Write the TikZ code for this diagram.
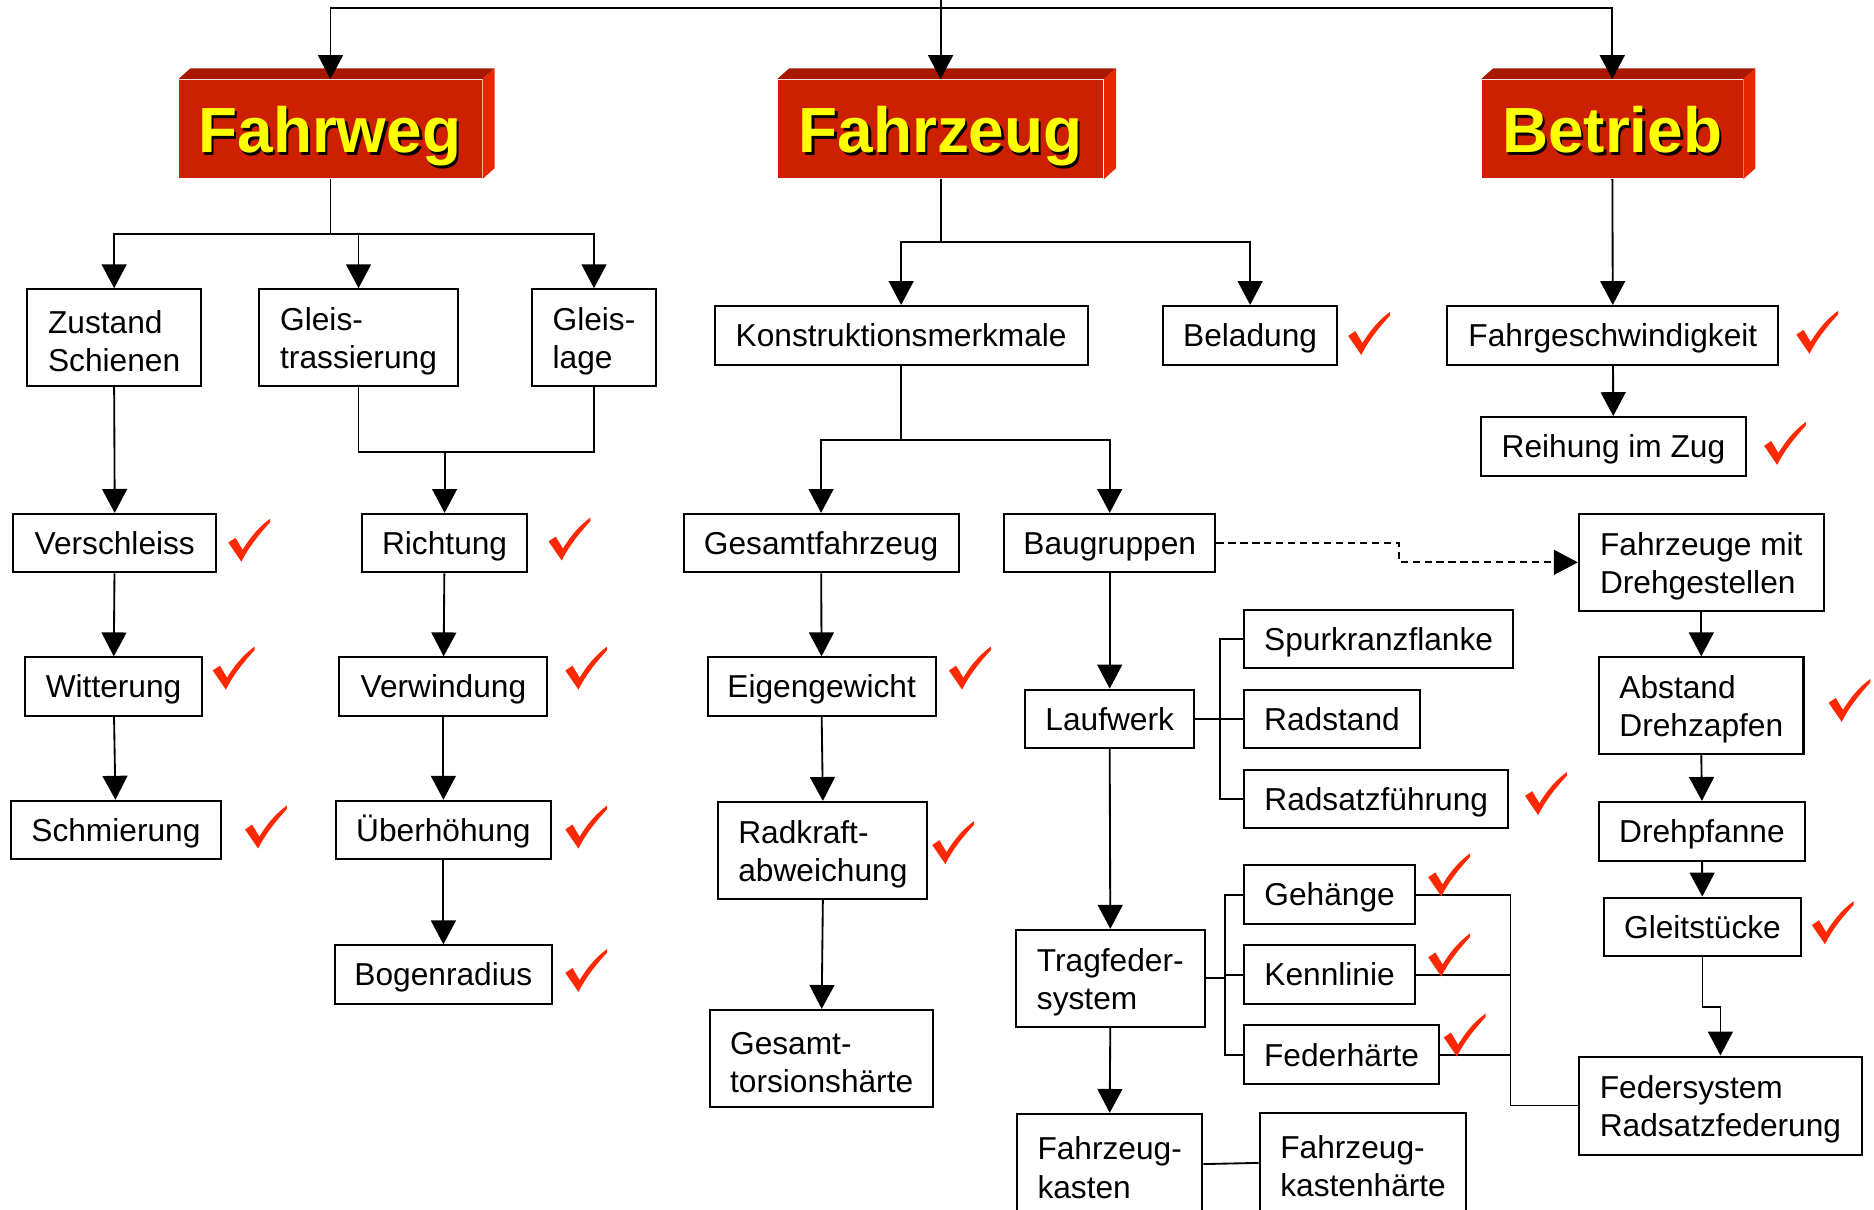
\documentclass[tikz,border=0pt]{standalone}
\usepackage{fontspec}
\setmainfont{Liberation Sans}
\usetikzlibrary{arrows.meta}
\definecolor{hdfront}{RGB}{204,32,0}
\definecolor{hdtop}{RGB}{168,24,0}
\definecolor{hdside}{RGB}{234,38,0}
\definecolor{hdyellow}{RGB}{255,255,0}
\definecolor{tickred}{RGB}{255,40,0}
\newcommand{\lnup}{\rule{0pt}{18pt}}

\begin{document}
\begin{tikzpicture}[x=0.025cm, y=-0.025cm, >={Triangle[length=0.5cm,width=0.52cm]}, line width=1.1pt,
    bx/.style={draw, line width=1.2pt, fill=white, inner sep=0pt, font=\fontsize{18.85}{22.7}\selectfont, text height=13.5pt, text depth=0pt},
    bxx/.style={draw, line width=1.2pt, fill=white, inner sep=0pt, align=left, font=\fontsize{18.85}{22.7}\selectfont},
    sz/.style 2 args={minimum width=#1*0.025cm, minimum height=#2*0.025cm},
    hd/.style={fill=hdfront, inner sep=0pt},
    hdtxt/.style={anchor=base, text=hdyellow, font=\fontsize{38}{40}\selectfont\bfseries},
    chk/.pic={\fill[tickred] (-17,1) -- (-11,-3) -- (-5,7) .. controls (3,-6) and (10,-13) .. (18,-19) -- (18,-16) .. controls (8,-5) and (0,5) .. (-6,17) -- cycle;}]
    \useasboundingbox (0,0) rectangle (1568,1012);
    % headers
    \node[hd, sz={253}{82}] (fw) at (276.5,108) {};
    \node[hd, sz={272}{82}] (fz) at (787,108) {};
    \node[hd, sz={218}{82}] (bt) at (1349,108) {};
    \foreach \h in {fw,fz,bt}{
        \fill[hdtop] (\h.north west) -- ++(10,-9) -- ([shift={(10,-9)}]\h.north east) -- (\h.north east) -- cycle;
        \fill[hdside] (\h.north east) -- ++(10,-9) -- ([shift={(10,-9)}]\h.south east) -- (\h.south east) -- cycle;
    }
    \node[hdtxt, text=black] (fws) at (278,130) {Fahrweg};
    \node[hdtxt] (fwt) at (276,128) {Fahrweg};
    \node[hdtxt, text=black] (fzs) at (789,130) {Fahrzeug};
    \node[hdtxt] (fzt) at (787,128) {Fahrzeug};
    \node[hdtxt, text=black] (bts) at (1351,130) {Betrieb};
    \node[hdtxt] (btt) at (1349,128) {Betrieb};

    % Fahrweg
    \node[bxx, sz={145}{81}] (zs) at (95.5,282.5) {\lnup Zustand\\Schienen};
    \node[bxx, sz={166}{81}] (gt) at (300,282.5) {\lnup Gleis-\\trassierung};
    \node[bxx, sz={104}{81}] (gl) at (497,282.5) {\lnup Gleis-\\lage};
    \node[bx, sz={170}{49}] (vs) at (96,454.5) {Verschleiss};
    \node[bx, sz={138}{49}] (ri) at (372,454.5) {Richtung};
    \node[bx, sz={148}{49}] (wi) at (95,574.5) {Witterung};
    \node[bx, sz={174}{49}] (vw) at (371,574.5) {Verwindung};
    \node[bx, sz={176}{49}] (sm) at (97,694.5) {Schmierung};
    \node[bx, sz={180}{49}] (ue) at (371,694.5) {Überhöhung};
    \node[bx, sz={182}{49}] (br) at (371,815.5) {Bogenradius};

    % Fahrzeug
    \node[bx, sz={312}{49}] (km) at (754,280.5) {Konstruktionsmerkmale};
    \node[bx, sz={146}{49}] (bl) at (1046,280.5) {Beladung};
    \node[bx, sz={230}{49}] (gf) at (687,454.5) {Gesamtfahrzeug};
    \node[bx, sz={177}{49}] (bg) at (928.5,454.5) {Baugruppen};
    \node[bx, sz={191}{49}] (eg) at (687.5,574.5) {Eigengewicht};
    \node[bxx, sz={175}{81}] (rk) at (688.5,711.5) {\lnup Radkraft-\\abweichung};
    \node[bxx, sz={187}{81}] (gs) at (687.5,885.5) {\lnup Gesamt-\\torsionshärte};
    \node[bx, sz={141}{49}] (lw) at (928.5,601.5) {Laufwerk};
    \node[bx, sz={225}{49}] (sk) at (1153.5,534.5) {Spurkranzflanke};
    \node[bx, sz={147}{49}] (rs) at (1114.5,601.5) {Radstand};
    \node[bx, sz={221}{49}] (rf) at (1151.5,668.5) {Radsatzführung};
    \node[bxx, sz={158}{81}] (tf) at (929,818.5) {\lnup Tragfeder-\\system};
    \node[bx, sz={143}{49}] (gh) at (1112.5,748.5) {Gehänge};
    \node[bx, sz={143}{49}] (kl) at (1112.5,815.5) {Kennlinie};
    \node[bx, sz={163}{49}] (fh) at (1122.5,882.5) {Federhärte};
    \node[bxx, sz={155}{84}] (fk) at (928.5,974) {\lnup Fahrzeug-\\kasten};
    \node[bxx, sz={173}{84}] (fkh) at (1140.5,973) {\lnup Fahrzeug-\\kastenhärte};

    % Betrieb
    \node[bx, sz={277}{49}] (fg) at (1349.5,280.5) {Fahrgeschwindigkeit};
    \node[bx, sz={222}{49}] (rz) at (1350,373.5) {Reihung im Zug};
    \node[bxx, sz={205}{81}] (fd) at (1423.5,470.5) {\lnup Fahrzeuge mit\\Drehgestellen};
    \node[bxx, sz={171}{81}] (ad) at (1423.5,590.5) {\lnup Abstand\\Drehzapfen};
    \node[bx, sz={172}{49}] (dp) at (1424,695.5) {Drehpfanne};
    \node[bx, sz={165}{49}] (gls) at (1424.5,775.5) {Gleitstücke};
    \node[bxx, sz={237}{82}] (fsr) at (1439.5,925) {\lnup Federsystem\\Radsatzfederung};

    % connectors
    \coordinate (top) at (787,0);
    \coordinate (j1) at (372,377);
    \draw[->] (top) -- ++(0,7) -| (fw.north);
    \draw[->] (top) -- (fz.north);
    \draw[->] (top) -- ++(0,7) -| (bt.north);

    \draw[->] (fw.south) -- ++(0,46) -| (zs.north);
    \draw[->] (fw.south) -- ++(0,46) -| (gt.north);
    \draw[->] (fw.south) -- ++(0,46) -| (gl.north);
    \draw[->] (zs.south) -- (vs.north);
    \draw (gt.south) -- ++(0,54) -| (gl.south);
    \draw[->] (j1) -- (ri.north);
    \draw[->] (vs) -- (wi);
    \draw[->] (wi) -- (sm);
    \draw[->] (ri) -- (vw);
    \draw[->] (vw) -- (ue);
    \draw[->] (ue) -- (br);

    \draw[->] (fz.south) -- ++(0,53) -| (km.north);
    \draw[->] (fz.south) -- ++(0,53) -| (bl.north);
    \draw[->] (km.south) -- ++(0,62) -| (gf.north);
    \draw[->] (km.south) -- ++(0,62) -| (bg.north);
    \draw[->] (gf) -- (eg);
    \draw[->] (eg.south) -- (rk.north);
    \draw[->] (rk.south) -- (gs.north);
    \draw[->] (bg) -- (lw);
    \draw[->] (lw.south) -- (tf.north);
    \draw[->] (tf.south) -- (fk.north);
    \draw (lw.east) -- ++(21,0) |- (sk.west);
    \draw (lw.east) -- (rs.west);
    \draw (lw.east) -- ++(21,0) |- (rf.west);
    \draw (tf.east) -- ++(16,0) |- (gh.west);
    \draw (tf.east) -- ++(16,0) |- (kl.west);
    \draw (tf.east) -- ++(16,0) |- (fh.west);
    \draw (gh.east) -- ++(79,0) |- (fsr.west);
    \draw (kl.east) -- ++(79,0) |- (fsr.west);
    \draw (fh.east) -- ++(59,0) |- (fsr.west);
    \draw (fk.east) -- (fkh.west);
    \draw[->, dash pattern=on 0.15cm off 0.1cm] (bg.east) -- ++(153,0) |- (fd.west);

    \draw[->] (bt) -- (fg);
    \draw[->] (fg) -- (rz);
    \draw[->] (fd.south) -- (ad.north);
    \draw[->] (ad.south) -- (dp.north);
    \draw[->] (dp) -- (gls);
    \draw[->] (gls.south) -- ++(0,42) -| (fsr.north);

    % ticks
    \foreach \p in {(208,453),(476,452),(195,560),(490,560),(222,693),(490,693),(490,813),
        (1145,280),(1520,279),(1493,372),(811,560),(797,706),(1293,665),(1547,587),
        (1533,773),(1212,733),(1212,800),(1225,867)}
        \pic at \p {chk};
\end{tikzpicture}
\end{document}
